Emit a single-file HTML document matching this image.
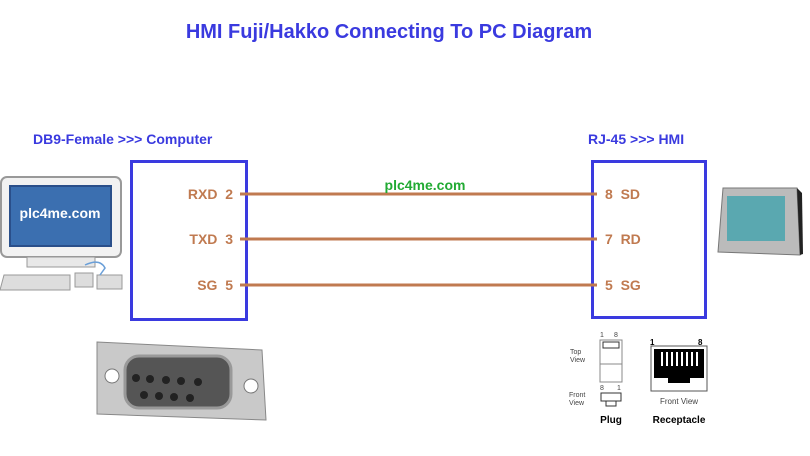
<!DOCTYPE html>
<html><head><style>
html,body{margin:0;padding:0;background:#fff;}
svg{display:block;font-family:"Liberation Sans",Arial,sans-serif;}
text{white-space:pre;}
</style></head><body>
<svg width="810" height="456" viewBox="0 0 810 456" xmlns="http://www.w3.org/2000/svg">
<rect width="810" height="456" fill="#fff"/>
<text x="389" y="38" text-anchor="middle" font-size="20" font-weight="bold" fill="#3a3adf">HMI Fuji/Hakko Connecting To PC Diagram</text>
<text x="33" y="144" font-size="14" font-weight="bold" fill="#3a3adf">DB9-Female &gt;&gt;&gt; Computer</text>
<text x="588" y="144" font-size="14" font-weight="bold" fill="#3a3adf">RJ-45 &gt;&gt;&gt; HMI</text>
<rect x="131.5" y="161.5" width="115" height="158" fill="none" stroke="#3a3adf" stroke-width="3"/>
<rect x="592.5" y="161.5" width="113" height="156" fill="none" stroke="#3a3adf" stroke-width="3"/>
<g stroke="#c07a50" stroke-width="3">
<line x1="240" y1="194" x2="597" y2="194"/>
<line x1="240" y1="239" x2="597" y2="239"/>
<line x1="240" y1="285" x2="597" y2="285"/>
</g>
<g font-size="14" font-weight="bold" fill="#c07a50">
<text x="233" y="199" text-anchor="end">RXD&#160;&#160;2</text>
<text x="233" y="244" text-anchor="end">TXD&#160;&#160;3</text>
<text x="233" y="290" text-anchor="end">SG&#160;&#160;5</text>
<text x="605" y="199">8&#160;&#160;SD</text>
<text x="605" y="244">7&#160;&#160;RD</text>
<text x="605" y="290">5&#160;&#160;SG</text>
</g>
<text x="425" y="190" text-anchor="middle" font-size="14" font-weight="bold" fill="#22aa33">plc4me.com</text>
<!-- computer -->
<rect x="1" y="177" width="120" height="80" rx="6" fill="#f2f2f2" stroke="#999" stroke-width="2"/>
<rect x="10" y="186" width="101" height="60" fill="#3b6fb0" stroke="#2a4f8a" stroke-width="2"/>
<text x="60" y="218" text-anchor="middle" font-size="14" font-weight="bold" fill="#fff">plc4me.com</text>
<rect x="27" y="257" width="68" height="10" fill="#e8e8e8" stroke="#999"/>
<path d="M4 275 L70 275 L70 290 L0 290 Z" fill="#ddd" stroke="#999"/>
<rect x="75" y="273" width="18" height="14" fill="#ddd" stroke="#999"/>
<rect x="97" y="275" width="25" height="14" fill="#ddd" stroke="#999"/>
<path d="M85 265 Q100 258 105 268 L100 275" fill="none" stroke="#6a9fd8" stroke-width="1.5"/>
<!-- DB9 -->
<path d="M97 342 L262 350 L266 420 L97 414 Z" fill="#c9c9c9" stroke="#888"/>
<circle cx="112" cy="376" r="7" fill="#fff" stroke="#777"/>
<circle cx="251" cy="386" r="7" fill="#fff" stroke="#777"/>
<rect x="125" y="356" width="106" height="52" rx="14" fill="#555" stroke="#999" stroke-width="3"/>
<g fill="#222">
<circle cx="136" cy="378" r="4"/><circle cx="150" cy="379" r="4"/><circle cx="166" cy="380" r="4"/><circle cx="181" cy="381" r="4"/><circle cx="198" cy="382" r="4"/>
<circle cx="144" cy="395" r="4"/><circle cx="159" cy="396" r="4"/><circle cx="174" cy="397" r="4"/><circle cx="190" cy="398" r="4"/>
</g>
<!-- HMI -->
<path d="M723 188 L797 188 L800 255 L718 252 Z" fill="#bbb" stroke="#777"/>
<rect x="727" y="196" width="58" height="45" fill="#5aa8b0"/>
<path d="M797 188 L802 193 L803 254 L800 255 Z" fill="#222"/>
<!-- RJ45 plug -->
<g font-size="7" fill="#444">
<text x="600" y="337">1</text><text x="614" y="337">8</text>
<text x="570" y="354">Top</text><text x="570" y="362">View</text>
<text x="569" y="397">Front</text><text x="569" y="405">View</text>
<text x="600" y="390">8</text><text x="617" y="390">1</text>
</g>
<rect x="600" y="340" width="22" height="42" fill="#fff" stroke="#888"/>
<rect x="603" y="342" width="16" height="6" fill="#fff" stroke="#333"/>
<line x1="600" y1="364" x2="622" y2="364" stroke="#888"/>
<rect x="601" y="393" width="20" height="8" fill="#fff" stroke="#333"/>
<rect x="606" y="401" width="10" height="5" fill="#fff" stroke="#333"/>
<text x="611" y="423" text-anchor="middle" font-size="10" font-weight="bold">Plug</text>
<!-- receptacle -->
<text x="650" y="345" font-size="8" font-weight="bold">1</text>
<text x="698" y="345" font-size="8" font-weight="bold">8</text>
<rect x="651" y="346" width="56" height="45" fill="#fff" stroke="#555"/>
<path d="M654 349 L704 349 L704 378 L690 378 L690 383 L668 383 L668 378 L654 378 Z" fill="#000"/>
<g fill="#fff"><rect x="661" y="352" width="2" height="14"/><rect x="666" y="352" width="2" height="14"/><rect x="671" y="352" width="2" height="14"/><rect x="676" y="352" width="2" height="14"/><rect x="681" y="352" width="2" height="14"/><rect x="686" y="352" width="2" height="14"/><rect x="691" y="352" width="2" height="14"/><rect x="696" y="352" width="2" height="14"/></g>
<text x="679" y="404" text-anchor="middle" font-size="8" fill="#444">Front View</text>
<text x="679" y="423" text-anchor="middle" font-size="10" font-weight="bold">Receptacle</text>
</svg>
</body></html>
